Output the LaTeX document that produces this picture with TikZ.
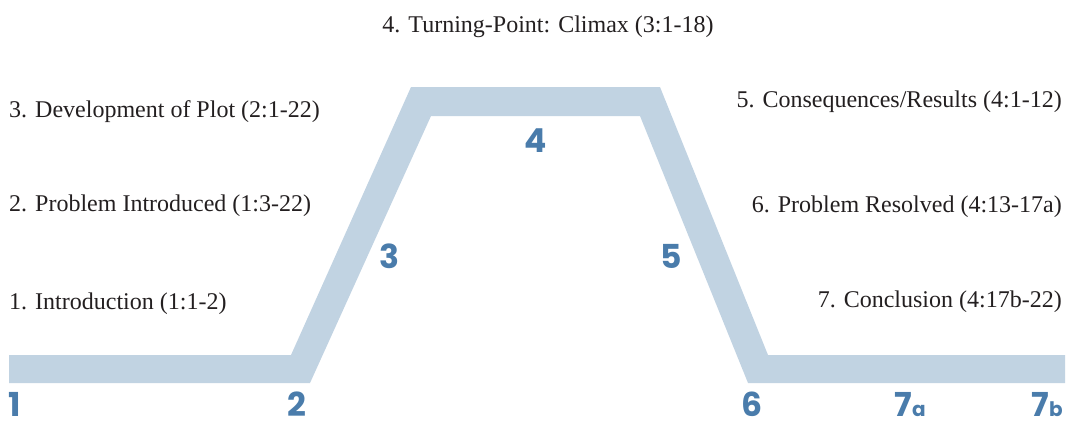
\documentclass[tikz,border=0pt]{standalone}
\usepackage{fontspec}
\setmainfont{Liberation Serif}
\newfontfamily\numfont{Poppins}
\definecolor{band}{HTML}{C1D3E2}
\definecolor{num}{HTML}{4A7CAB}
\definecolor{txt}{HTML}{231F20}
\begin{document}
\begin{tikzpicture}[x=1pt,y=-1pt,
  lbl/.style={inner sep=0pt, text=txt, font=\fontsize{24}{28}\selectfont},
  numlbl/.style={inner sep=0pt, text depth=0pt, text=num, font=\numfont\bfseries\fontsize{33}{40}\selectfont, anchor=base}]
\useasboundingbox (0,0) rectangle (1075,424);
\fill[band] (9,355) -- (291,355) -- (411,87) -- (660,87) -- (768,355) -- (1065,355)
  -- (1065,383) -- (748,383) -- (640,116) -- (431,116) -- (310,383) -- (9,383) -- cycle;
% stage numbers
\node[numlbl] (n1) at (15,416) {1};
\node[numlbl] (n2) at (297,416) {2};
\node[numlbl] (n3) at (389,268) {3};
\node[numlbl] (n4) at (536,152) {4};
\node[numlbl] (n5) at (671,268) {5};
\node[numlbl] (n6) at (752,416) {6};
\node[numlbl] (n7a) at (910,416) {7{\fontsize{20}{24}\selectfont a}};
\node[numlbl] (n7b) at (1047,416) {7{\fontsize{20}{24}\selectfont b}};
% descriptions
\node[lbl, anchor=base] (t4) at (548,32) {4. Turning-Point: Climax (3:1-18)};
\node[lbl, anchor=base west] (t3) at (9,117) {3. Development of Plot (2:1-22)};
\node[lbl, anchor=base west] (t2) at (9,211) {2. Problem Introduced (1:3-22)};
\node[lbl, anchor=base west] (t1) at (9,309) {1. Introduction (1:1-2)};
\node[lbl, anchor=base east] (t5) at (1062,107) {5. Consequences/Results (4:1-12)};
\node[lbl, anchor=base east] (t6) at (1062,212) {6. Problem Resolved (4:13-17a)};
\node[lbl, anchor=base east] (t7) at (1062,307) {7. Conclusion (4:17b-22)};
\end{tikzpicture}
\end{document}
